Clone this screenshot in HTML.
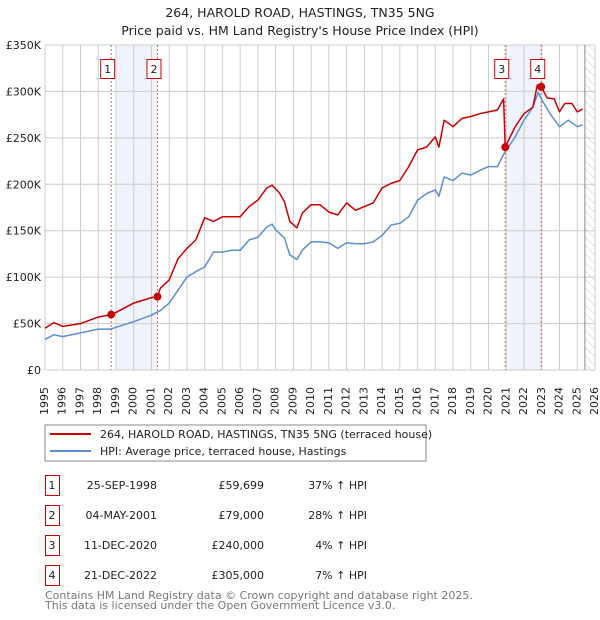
<!DOCTYPE html>
<html><head><meta charset="utf-8"><style>
body{margin:0;background:#fff;font-family:"DejaVu Sans","Liberation Sans",sans-serif;}
svg text{font-family:"DejaVu Sans","Liberation Sans",sans-serif;}
#wrap{position:relative;width:600px;height:620px;overflow:hidden;}
.xt{position:absolute;font-size:11px;line-height:11px;color:#222;white-space:nowrap;writing-mode:sideways-lr;text-align:left;height:40px;width:11px;}
</style></head><body>
<div id="wrap">
<svg id="c" width="600" height="620" xmlns="http://www.w3.org/2000/svg" style="position:absolute;left:0;top:0">
<defs><pattern id="hatch" width="6" height="6" patternUnits="userSpaceOnUse" patternTransform="rotate(-45)"><line x1="0" y1="0" x2="0" y2="6" stroke="#ccc" stroke-width="1"/></pattern></defs>
<text x="300" y="17" text-anchor="middle" font-size="12.5" fill="#222">264, HAROLD ROAD, HASTINGS, TN35 5NG</text>
<text x="300" y="35" text-anchor="middle" font-size="12.5" fill="#222">Price paid vs. HM Land Registry's House Price Index (HPI)</text>
<g id="plot"></g>
<rect x="45" y="425" width="381" height="36" fill="#fff" stroke="#888"/>
<line x1="50" y1="434" x2="91" y2="434" stroke="#cc0000" stroke-width="2"/>
<text x="100" y="438" font-size="11" fill="#222">264, HAROLD ROAD, HASTINGS, TN35 5NG (terraced house)</text>
<line x1="50" y1="451" x2="91" y2="451" stroke="#5b8fd0" stroke-width="2"/>
<text x="100" y="455" font-size="11" fill="#222">HPI: Average price, terraced house, Hastings</text>
<g id="table" font-size="11" fill="#222"></g>
<text x="45" y="599" font-size="11" fill="#777">Contains HM Land Registry data © Crown copyright and database right 2025.</text>
<text x="45" y="609" font-size="11" fill="#777">This data is licensed under the Open Government Licence v3.0.</text>
</svg>
</div>
<script>
const hpiYears=[1995,1995.5,1996,1997,1998,1998.7,1999,2000,2001,2001.5,2002,2002.5,2003,2003.5,2004,2004.5,2005,2005.5,2006,2006.5,2007,2007.5,2007.8,2008,2008.5,2008.8,2009.2,2009.5,2010,2010.5,2011,2011.5,2012,2012.5,2013,2013.5,2014,2014.5,2015,2015.5,2016,2016.5,2017,2017.2,2017.5,2018,2018.5,2019,2019.5,2020,2020.5,2020.9,2021.5,2022,2022.5,2022.8,2023,2023.5,2024,2024.5,2025,2025.3];
const hpiValues=[33,38,36,40,44,44,46,52,59,64,72,86,100,106,111,127,127,129,129,140,143,154,157,151,142,124,119,129,138,138,137,131,137,136,136,138,145,156,158,165,183,190,194,187,208,204,212,210,215,219,219,234,251,269,283,299,291,275,262,269,262,264];
const priceYears=[1995,1995.5,1996,1997,1998,1998.73,1999,2000,2001,2001.34,2001.5,2002,2002.5,2003,2003.5,2004,2004.5,2005,2006,2006.5,2007,2007.5,2007.8,2008.2,2008.5,2008.8,2009.2,2009.5,2010,2010.5,2011,2011.5,2012,2012.5,2013,2013.5,2014,2014.5,2015,2015.5,2016,2016.5,2017,2017.2,2017.5,2018,2018.5,2019,2019.5,2020,2020.5,2020.85,2020.94,2021.5,2022,2022.5,2022.75,2022.97,2023.3,2023.7,2024,2024.3,2024.7,2025,2025.3];
const priceValues=[45,51,47,50,57,59.7,62,72,78,79,88,97,120,131,140,164,160,165,165,176,183,196,199,191,181,160,153,169,178,178,170,167,180,172,176,180,196,201,204,219,237,240,251,240,269,262,271,273,276,278,280,292,240,262,276,283,307,305,293,292,278,287,287,278,281];
const saleLabels=["1","2","3","4"];
const saleYears=[1998.73,2001.34,2020.94,2022.97];
const saleValues=[59.699,79,240,305];
const saleDates=["25-SEP-1998","04-MAY-2001","11-DEC-2020","21-DEC-2022"];
const salePrices=["£59,699","£79,000","£240,000","£305,000"];
const saleHpi=["37% ↑ HPI","28% ↑ HPI","4% ↑ HPI","7% ↑ HPI"];
const bandStarts=[1999.05,2020.98];
const bandEnds=[2001.34,2022.97];
const yTicks=[0,50,100,150,200,250,300,350];
const yTickLabels=["£0","£50K","£100K","£150K","£200K","£250K","£300K","£350K"];
const xTicks=[1995,1996,1997,1998,1999,2000,2001,2002,2003,2004,2005,2006,2007,2008,2009,2010,2011,2012,2013,2014,2015,2016,2017,2018,2019,2020,2021,2022,2023,2024,2025,2026];
const hatchStart=2025.43;

const L=45,R=595,T=45,B=370;
const xs=y=>L+(y-1995)*(R-L)/31;
const ys=v=>B-v*(B-T)/350;
const NS="http://www.w3.org/2000/svg";
function mk(parent,tag,attrs){const e=document.createElementNS(NS,tag);for(const k in attrs)e.setAttribute(k,attrs[k]);parent.appendChild(e);return e;}
const g=document.getElementById('plot');
const wrapDiv=document.getElementById('wrap');
for(let i=0;i<bandStarts.length;i++){
  const r=mk(g,'rect',{x:xs(bandStarts[i]),y:T,width:xs(bandEnds[i])-xs(bandStarts[i]),height:B-T,fill:'#eef3fc'});
  
  
}
const h=mk(g,'rect',{x:xs(hatchStart),y:T,width:R-xs(hatchStart),height:B-T,fill:'url(#hatch)'});


xTicks.forEach((t,i)=>{
  const l=mk(g,'line',{x1:xs(t),x2:xs(t),y1:T,y2:B,stroke:'#ccc','stroke-width':1});
  
  
  const d=document.createElement('div');
  d.className='xt';
  d.textContent=t;
  d.style.left=(xs(t)-6).toFixed(1)+'px';
  d.style.top=(B+5)+'px';
  
  
  wrapDiv.appendChild(d);
});
yTicks.forEach((t,i)=>{
  const l=mk(g,'line',{x1:L,x2:R,y1:ys(t),y2:ys(t),stroke:'#ccc','stroke-width':1});
  
  
  const tx=mk(g,'text',{x:L-4,y:ys(t)+4,'text-anchor':'end','font-size':11,fill:'#222'});
  tx.textContent=yTickLabels[i];
  
  
});
const hl=mk(g,'line',{x1:xs(hatchStart),x2:xs(hatchStart),y1:T,y2:B,stroke:'#888','stroke-width':1});


saleYears.forEach((s,i)=>{
  const l=mk(g,'line',{x1:xs(s),x2:xs(s),y1:T,y2:B,stroke:'#e06060','stroke-width':1,'stroke-dasharray':'2,2'});
  
  
});
const pts=(xa,va)=>xa.map((x,i)=>xs(x).toFixed(1)+','+ys(va[i]).toFixed(1)).join(' ');
const hp=mk(g,'polyline',{points:pts(hpiYears,hpiValues),fill:'none',stroke:'#5b8fd0','stroke-width':1.5,'stroke-linejoin':'round'});


const pp=mk(g,'polyline',{points:pts(priceYears,priceValues),fill:'none',stroke:'#cc0000','stroke-width':1.5,'stroke-linejoin':'round'});


saleYears.forEach((s,i)=>{
  const c=mk(g,'circle',{cx:xs(s),cy:ys(saleValues[i]),r:4,fill:'#cc0000'});
  
  
  const lx=xs(s)-10.5;
  const b=mk(g,'rect',{x:lx,y:59.5,width:14,height:19,fill:'#fff',stroke:'#cc0000'});
  
  
  const t=mk(g,'text',{x:lx+7,y:73,'text-anchor':'middle','font-size':11,fill:'#222'});
  t.textContent=saleLabels[i];
  
  
});
const tb=document.getElementById('table');
const rowY=[475,505,535,565];
saleLabels.forEach((lab,i)=>{
  const y=rowY[i];
  const b=mk(tb,'rect',{x:45.5,y:y+0.5,width:14,height:20,fill:'#fff',stroke:'#cc0000'});
  
  
  const texts=[[52,'middle',lab,'table-row-number'],[157,'end',saleDates[i],'table-row-date'],[264,'end',salePrices[i],'table-row-price'],[367,'end',saleHpi[i],'table-row-hpi']];
  texts.forEach(([x,a,s,n])=>{
    const t=mk(tb,'text',{x:x,y:y+14,'text-anchor':a,'font-size':11,fill:'#222'});
    t.textContent=s;
    
    
  });
});
</script>
</body></html>
